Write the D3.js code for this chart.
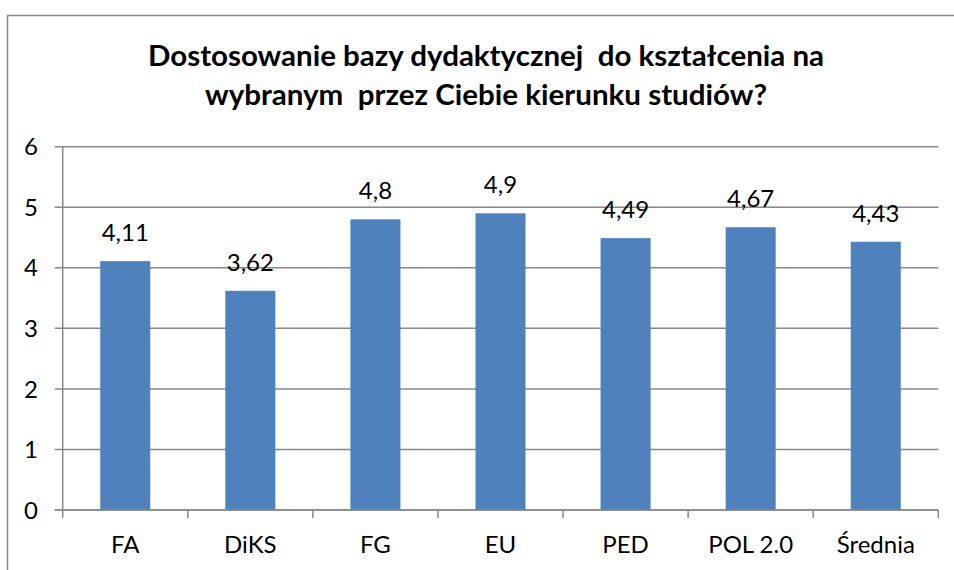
<!DOCTYPE html>
<html>
<head>
<meta charset="utf-8">
<script src="https://cdn.jsdelivr.net/npm/d3@7"></script>
<style>
  html, body { margin: 0; padding: 0; background: #fff; overflow: hidden; }
  svg { display: block; font-family: Lato, "Open Sans", sans-serif; }
</style>
</head>
<body>
<svg id="chart" width="954" height="570"></svg>
<script>
const categories = ['FA', 'DiKS', 'FG', 'EU', 'PED', 'POL 2.0', 'Średnia'];
const values = [4.11, 3.62, 4.8, 4.9, 4.49, 4.67, 4.43];
const valueLabels = ['4,11', '3,62', '4,8', '4,9', '4,49', '4,67', '4,43'];
const yTicks = [0, 1, 2, 3, 4, 5, 6];
const titleLines = [
  'Dostosowanie bazy dydaktycznej  do kształcenia na',
  'wybranym  przez Ciebie kierunku studiów?'
];

const svg = d3.select('#chart');
const gridColor = '#888888';
const margin = { left: 62.7, right: 938.3, top: 146.7, bottom: 510 };
const fontSize = 24;

// outer frame: only the top and left edges show in the picture
svg.append('path')
  .attr('d', d3.line()([[7.5, 570], [7.5, 15.5], [954, 15.5]]))
  .attr('fill', 'none')
  .attr('stroke', '#8a8a8a')
  .attr('stroke-width', 1.5);

// title
const titleWidths = [676, 562];
titleLines.forEach((line, i) => {
  let t = svg.append('text')
    .attr('x', 486)
    .attr('y', 66 + i * 39)
    .attr('text-anchor', 'middle')
    .attr('font-size', 28)
    .attr('font-weight', 'bold')
    .attr('fill', '#000')
    .style('white-space', 'pre')
    .text(line);
  let w = t.node().getComputedTextLength();
  if (Math.abs(w - titleWidths[i]) > 4) {
    t.attr('textLength', titleWidths[i]).attr('lengthAdjust', 'spacingAndGlyphs');
  }
});

let x = d3.scaleBand()
  .domain(categories)
  .range([margin.left, margin.right])
  .padding(0);

let y = d3.scaleLinear()
  .domain([0, 6])
  .range([margin.bottom, margin.top]);

// horizontal gridlines
svg.append('g')
  .selectAll('line')
  .data(yTicks)
  .join('line')
  .attr('x1', margin.left - 8)
  .attr('x2', margin.right)
  .attr('y1', d => y(d))
  .attr('y2', d => y(d))
  .attr('stroke', gridColor)
  .attr('stroke-width', 1.5);

// y axis line
svg.append('line')
  .attr('x1', margin.left).attr('x2', margin.left)
  .attr('y1', y(6)).attr('y2', y(0))
  .attr('stroke', gridColor)
  .attr('stroke-width', 1.5);

// y tick labels
svg.append('g')
  .selectAll('text')
  .data(yTicks)
  .join('text')
  .attr('x', 38)
  .attr('y', d => y(d))
  .attr('dy', '0.36em')
  .attr('text-anchor', 'end')
  .attr('font-size', fontSize)
  .attr('fill', '#000')
  .text(d => d);

// x tick marks at category boundaries
let boundaries = categories.map(c => x(c)).concat([x(categories[categories.length - 1]) + x.bandwidth()]);
svg.append('g')
  .selectAll('line')
  .data(boundaries)
  .join('line')
  .attr('x1', d => d).attr('x2', d => d)
  .attr('y1', y(0)).attr('y2', y(0) + 8)
  .attr('stroke', gridColor)
  .attr('stroke-width', 1.5);

// bars
const barW = x.bandwidth() * 0.4;
svg.append('g')
  .selectAll('rect')
  .data(values)
  .join('rect')
  .attr('x', (d, i) => x(categories[i]) + (x.bandwidth() - barW) / 2)
  .attr('y', d => y(d))
  .attr('width', barW)
  .attr('height', d => y(0) - y(d))
  .attr('fill', '#4f81bd');

// redraw baseline over bars
svg.append('line')
  .attr('x1', margin.left - 8).attr('x2', margin.right)
  .attr('y1', y(0)).attr('y2', y(0))
  .attr('stroke', gridColor)
  .attr('stroke-width', 1.5);

// value labels
svg.append('g')
  .selectAll('text')
  .data(values)
  .join('text')
  .attr('x', (d, i) => x(categories[i]) + x.bandwidth() / 2)
  .attr('y', d => y(d) - 20)
  .attr('text-anchor', 'middle')
  .attr('font-size', fontSize)
  .attr('fill', '#000')
  .text((d, i) => valueLabels[i]);

// category labels
svg.append('g')
  .selectAll('text')
  .data(categories)
  .join('text')
  .attr('x', d => x(d) + x.bandwidth() / 2)
  .attr('y', 553)
  .attr('text-anchor', 'middle')
  .attr('font-size', fontSize)
  .attr('fill', '#000')
  .text(d => d);
</script>
</body>
</html>
